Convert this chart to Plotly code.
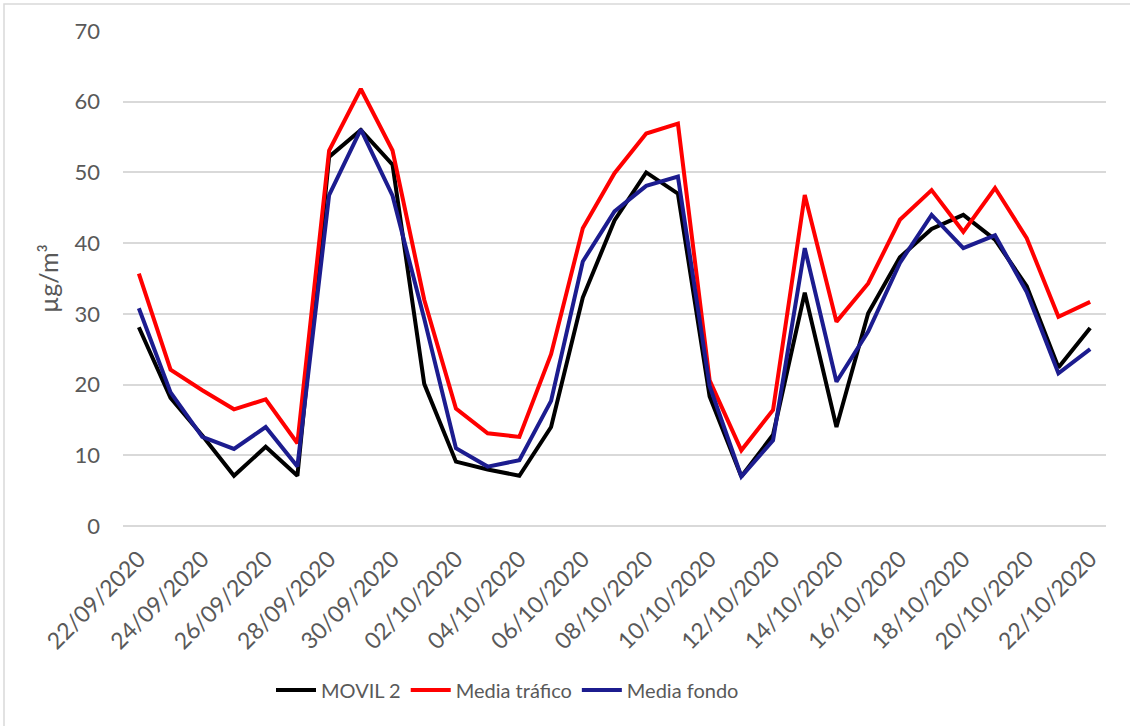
import plotly.graph_objects as go

dates = ["22/09/2020", "23/09/2020", "24/09/2020", "25/09/2020", "26/09/2020", "27/09/2020",
         "28/09/2020", "29/09/2020", "30/09/2020", "01/10/2020", "02/10/2020", "03/10/2020",
         "04/10/2020", "05/10/2020", "06/10/2020", "07/10/2020", "08/10/2020", "09/10/2020",
         "10/10/2020", "11/10/2020", "12/10/2020", "13/10/2020", "14/10/2020", "15/10/2020",
         "16/10/2020", "17/10/2020", "18/10/2020", "19/10/2020", "20/10/2020", "21/10/2020",
         "22/10/2020"]

movil2 = [28.1, 18.1, 12.8, 7.1, 11.2, 7.1, 52.2, 56.0, 51.1, 20.1, 9.1, 8.0, 7.1, 14.0, 32.3,
          43.2, 50.0, 47.0, 18.3, 7.0, 12.9, 33.0, 14.0, 30.1, 38.0, 42.0, 44.0, 40.5, 33.9,
          22.4, 28.0]
media_trafico = [35.7, 22.1, 19.2, 16.5, 17.9, 11.7, 53.1, 61.8, 53.1, 32.0, 16.6, 13.1, 12.6,
                 24.3, 42.1, 49.9, 55.5, 56.9, 20.6, 10.7, 16.4, 46.8, 28.9, 34.3, 43.3, 47.5,
                 41.6, 47.8, 40.7, 29.6, 31.7]
media_fondo = [30.8, 18.9, 12.6, 10.9, 14.0, 8.4, 46.8, 56.1, 46.7, 29.3, 11.0, 8.4, 9.3, 17.7,
               37.4, 44.5, 48.1, 49.4, 19.8, 7.0, 12.1, 39.3, 20.4, 27.5, 37.2, 44.0, 39.3, 41.1,
               33.1, 21.6, 25.0]

series_names = ["MOVIL 2", "Media tráfico", "Media fondo"]
series_values = [movil2, media_trafico, media_fondo]
series_colors = ["#000000", "#FF0000", "#1C1C8F"]

y_ticks = [0, 10, 20, 30, 40, 50, 60, 70]

FONT = "Lato"
GREY = "#595959"

W, H = 1130, 726
ML, MR, MT, MB = 123, 24, 31, 200
PW, PH = W - ML - MR, H - MT - MB

fig = go.Figure()
xs = list(range(len(dates)))
for name, vals, col in zip(series_names, series_values, series_colors):
    fig.add_trace(go.Scatter(x=xs, y=vals, mode="lines", name=name,
                             line=dict(color=col, width=4, shape="linear")))

fig.update_layout(
    width=W, height=H,
    margin=dict(l=ML, r=MR, t=MT, b=MB, autoexpand=False),
    paper_bgcolor="white", plot_bgcolor="white",
    font=dict(family=FONT, size=19, color=GREY),
    showlegend=True,
    legend=dict(orientation="h", x=(271 - ML) / PW, xanchor="left",
                y=-(690 - (MT + PH)) / PH, yanchor="middle",
                font=dict(family=FONT, size=20, color=GREY), itemwidth=40,
                traceorder="normal"),
    xaxis=dict(
        automargin=False,
        range=[-0.5, len(dates) - 0.5],
        tickmode="array",
        tickvals=xs[::2],
        ticktext=dates[::2],
        tickangle=-45,
        showgrid=False, zeroline=False, showline=False, ticks="",
        tickfont=dict(family=FONT, size=23, color=GREY),
        ticklabelstandoff=14,
    ),
    yaxis=dict(
        automargin=False,
        range=[0, 70],
        tickvals=y_ticks,
        showgrid=True, gridcolor="#D9D9D9", gridwidth=1.5,
        zeroline=True, zerolinecolor="#D9D9D9", zerolinewidth=1.5,
        showline=False, ticks="",
        tickfont=dict(family=FONT, size=22, color=GREY),
        ticklabelstandoff=22,
        title=dict(text="µg/m³", font=dict(family=FONT, size=25, color=GREY), standoff=8),
    ),
    shapes=[dict(type="rect", xref="paper", yref="paper",
                 x0=(4 - ML) / PW, x1=(1140 - ML) / PW,
                 y0=(MT + PH - 740) / PH, y1=(MT + PH - 4) / PH,
                 line=dict(color="#D9D9D9", width=1.5), layer="below")],
)

fig.write_html("out.html", config={"displayModeBar": False},
               post_script="document.body.style.margin='0';document.body.style.padding='0';")
